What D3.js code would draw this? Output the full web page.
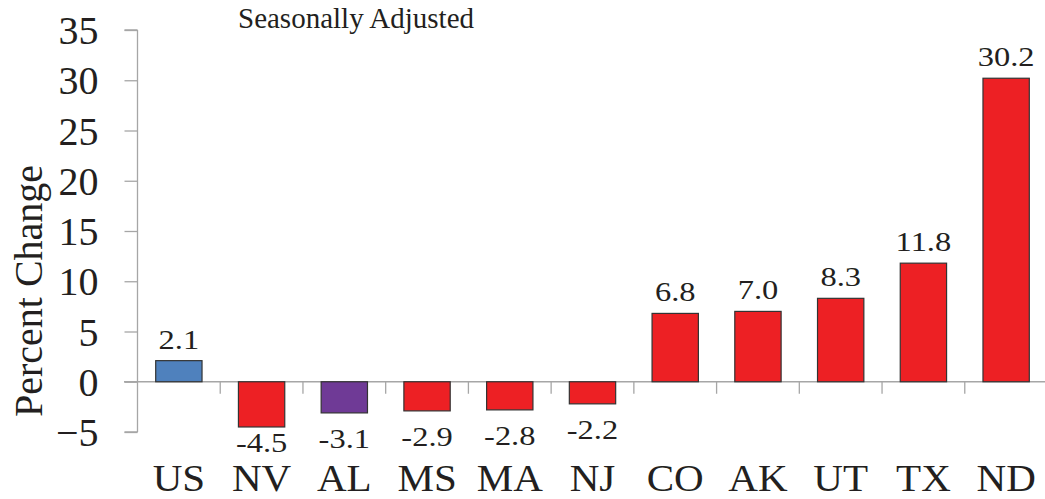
<!DOCTYPE html>
<html><head><meta charset="utf-8">
<script src="https://cdn.jsdelivr.net/npm/d3@7"></script>
<style>
html,body{margin:0;padding:0;background:#fff;overflow:hidden}
svg{display:block}
</style></head>
<body>
<svg id="chart" width="1045" height="499"></svg>
<script>
const categories = ["US","NV","AL","MS","MA","NJ","CO","AK","UT","TX","ND"];
const values = [2.1,-4.5,-3.1,-2.9,-2.8,-2.2,6.8,7.0,8.3,11.8,30.2];
const barColors = ["#4f81bd","#ed2024","#6f3a96","#ed2024","#ed2024","#ed2024","#ed2024","#ed2024","#ed2024","#ed2024","#ed2024"];
const yTicks = [-5,0,5,10,15,20,25,30,35];
const subtitle = "Seasonally Adjusted";
const yTitle = "Percent Change";

const FONT = "'Liberation Serif', 'DejaVu Serif', serif";
const TXT = "#231f20";
const svg = d3.select("#chart").attr("font-family", FONT);
const axisColor = "#a6a6a6";

const y = d3.scaleLinear().domain([-5,35]).range([432,30]);
const x = d3.scaleBand().domain(categories).range([137.5,1047.5]).paddingInner(0.44).paddingOuter(0.22);
const step = x.step();

// y axis
const yAxis = d3.axisLeft(y).tickValues(yTicks).tickSize(13).tickPadding(26).tickFormat(d3.format("d"));
const gy = svg.append("g").attr("transform","translate(137.5,0)").call(yAxis)
  .attr("font-family", FONT).attr("font-size", 40);
gy.selectAll("path,line").attr("stroke",axisColor).attr("stroke-width",1.3);
gy.select(".domain").attr("d", `M0,${y(35)}V${y(-5)}M0,${y(35)}H-13M0,${y(-5)}H-13`);
gy.selectAll("text").attr("dy","0.34em").attr("fill",TXT);

// zero line
svg.append("line").attr("x1",124).attr("x2",1045).attr("y1",y(0)).attr("y2",y(0))
  .attr("stroke",axisColor).attr("stroke-width",1.3);

// category tick marks at band boundaries
svg.append("g").selectAll("line").data(categories)
  .join("line")
  .attr("x1",(d,i)=>x.range()[0]+step*(i+1)).attr("x2",(d,i)=>x.range()[0]+step*(i+1))
  .attr("y1",y(0)).attr("y2",y(0)+12)
  .attr("stroke",axisColor).attr("stroke-width",1.3);

// bars
const data = categories.map((c,i)=>({c,v:values[i],col:barColors[i]}));
svg.append("g").selectAll("rect").data(data).join("rect")
  .attr("x",d=>x(d.c)).attr("width",x.bandwidth())
  .attr("y",d=>y(Math.max(0,d.v))).attr("height",d=>Math.abs(y(d.v)-y(0)))
  .attr("fill",d=>d.col).attr("stroke","#333").attr("stroke-width",1.2);

// value labels (slightly wide glyphs as in the reference)
svg.append("g").selectAll("text").data(data).join("text")
  .attr("transform",d=>`translate(${x(d.c)+x.bandwidth()/2},${d.v>=0 ? y(d.v)-12 : Math.min(y(d.v)+35, 452)}) scale(1.16,1)`)
  .attr("text-anchor","middle").attr("font-size",28).attr("fill",TXT)
  .text(d=>d.v.toFixed(1));

// category labels
svg.append("g").selectAll("text").data(categories).join("text")
  .attr("transform",d=>`translate(${x(d)+x.bandwidth()/2},491) scale(1.08,1)`)
  .attr("text-anchor","middle").attr("font-size",38).attr("fill",TXT).text(d=>d);

// y title
svg.append("text").attr("transform","translate(42,291) rotate(-90)")
  .attr("text-anchor","middle").attr("font-size",40).attr("fill",TXT).text(yTitle);

// subtitle
svg.append("text").attr("x",238).attr("y",28).attr("font-size",29).attr("fill",TXT).text(subtitle);
</script>
</body></html>
